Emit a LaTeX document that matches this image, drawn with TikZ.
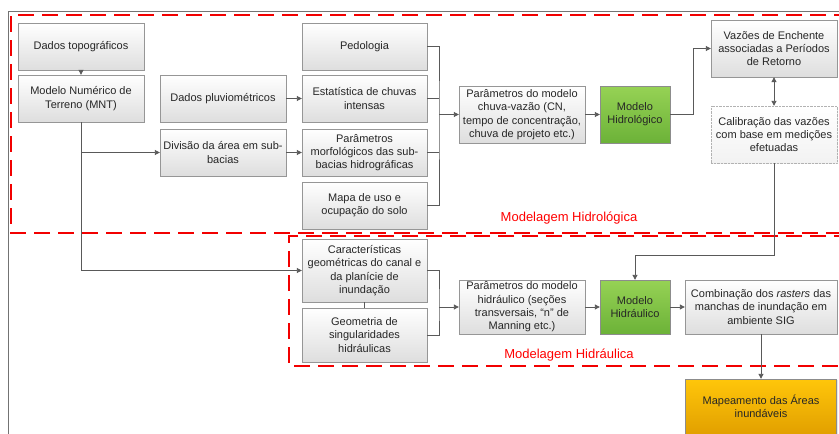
\documentclass[tikz,border=0pt]{standalone}
\usepackage{fontspec}
\setmainfont{Liberation Sans}
\usetikzlibrary{arrows.meta,shadows}
\definecolor{linha}{RGB}{89,89,89}
\definecolor{borda}{RGB}{150,150,150}
\definecolor{verdeA}{RGB}{150,210,85}
\definecolor{verdeB}{RGB}{108,178,56}
\definecolor{ouroA}{RGB}{255,198,10}
\definecolor{ouroB}{RGB}{226,160,0}
\tikzset{
  caixa/.style={draw=borda, top color=white, bottom color=black!13, align=center,
    inner sep=2pt, font=\fontsize{11}{13.3}\selectfont, text=black!85,
    drop shadow={shadow xshift=1pt, shadow yshift=-1pt, opacity=0.2}},
  tam/.style 2 args={minimum width=#1pt, minimum height=#2pt},
  verde/.style={caixa, top color=verdeA, bottom color=verdeB, draw=black!45},
  ouro/.style={caixa, top color=ouroA, bottom color=ouroB, draw=black!45},
  pontilhada/.style={caixa, draw=black!30, densely dotted, top color=white, bottom color=black!5, drop shadow={opacity=0}},
  seta/.style={draw=linha, line width=0.9pt, -{Triangle[length=5pt,width=5pt]}},
  liga/.style={draw=linha, line width=0.9pt},
  tracejado/.style={draw=red!95!black, line width=2.2pt, dash pattern=on 16pt off 8pt},
  rotulo/.style={text=red, font=\fontsize{13}{15}\selectfont},
}
\begin{document}
\begin{tikzpicture}[x=1pt, y=-1pt]
\useasboundingbox (0,0) rectangle (839,434);
\clip (0,0) rectangle (839,434);
% moldura
\draw[draw=black!55, line width=1pt] (8,434) -- (8,11) -- (839,11);
% areas de modelagem
\draw[tracejado] (850,15) -| (11,233) -- (850,233);
\draw[tracejado] (850,236) -| (289,366) -- (850,366);
\node[rotulo] (lbhidrol) at (569,218) {Modelagem Hidrológica};
\node[rotulo] (lbhidra) at (569,355) {Modelagem Hidráulica};
% caixas
\node[caixa, tam={126}{47}] (topo) at (81,46.5) {Dados topográficos};
\node[caixa, tam={126}{47}] (mnt) at (81,98.5) {Modelo Numérico de\\Terreno (MNT)};
\node[caixa, tam={126}{47}] (pluv) at (223,98.5) {Dados pluviométricos};
\node[caixa, tam={126}{47}] (divisao) at (223,152.5) {Divisão da área em sub-\\bacias};
\node[caixa, tam={125}{47}] (pedo) at (364.5,46.5) {Pedologia};
\node[caixa, tam={125}{47}] (estat) at (364.5,98.5) {Estatística de chuvas\\intensas};
\node[caixa, tam={125}{47}] (morfo) at (364.5,152.5) {Parâmetros\\morfológicos das sub-\\bacias hidrográficas};
\node[caixa, tam={125}{47}] (mapa) at (364.5,205.5) {Mapa de uso e\\ocupação do solo};
\node[caixa, tam={126}{57}] (chuva) at (522,114.5) {Parâmetros do modelo\\chuva-vazão (CN,\\tempo de concentração,\\chuva de projeto etc.)};
\node[verde, tam={70}{57}] (hidrol) at (635,114.5) {Modelo\\Hidrológico};
\node[caixa, tam={126}{57}] (vazoes) at (774,48.5) {Vazões de Enchente\\associadas a Períodos\\de Retorno};
\node[pontilhada, tam={126}{57}] (calib) at (774,134.5) {Calibração das vazões\\com base em medições\\efetuadas};
\node[caixa, tam={125}{63}] (caract) at (364.5,270.5) {Características\\geométricas do canal e\\da planície de\\inundação};
\node[caixa, tam={125}{54}] (geom) at (364.5,335) {Geometria de\\singularidades\\hidráulicas};
\node[caixa, tam={126}{54}] (phidr) at (522,307) {Parâmetros do modelo\\hidráulico (seções\\transversais, “n” de\\Manning etc.)};
\node[verde, tam={70}{54}] (hidra) at (635,307) {Modelo\\Hidráulico};
\node[caixa, tam={152}{54}] (comb) at (761,307) {Combinação dos \textit{rasters} das\\manchas de inundação em\\ambiente SIG};
\node[ouro, tam={151}{55}] (mapeam) at (761,406.5) {Mapeamento das Áreas\\inundáveis};
% ligacoes
\coordinate (j1) at (439,114.5);
\coordinate (j2) at (439,307);
\draw[seta] (topo) -- (mnt);
\draw[seta] (mnt.south) |- (caract.west);
\draw[seta] (mnt.south |- divisao.west) -- (divisao.west);
\draw[seta] (pluv) -- (estat);
\draw[seta] (divisao) -- (morfo);
\draw[liga] (pedo.east) -| (j1) |- (mapa.east);
\draw[liga] (estat.east) -- (estat.east -| j1);
\draw[liga] (morfo.east) -- (morfo.east -| j1);
\draw[seta] (j1) -- (chuva.west);
\draw[seta] (chuva) -- (hidrol);
\draw[seta] (hidrol.east) -- ++(23,0) |- (vazoes.west);
\draw[seta, {Triangle[length=5pt,width=5pt]}-{Triangle[length=5pt,width=5pt]}] (vazoes) -- (calib);
\draw[seta] (calib.south) -- ++(0,92) -| (hidra.north);
\draw[liga] (caract.east) -| (j2) |- (geom.east);
\draw[liga] (caract.south) -- (geom.north);
\draw[seta] (j2) -- (phidr.west);
\draw[seta] (phidr) -- (hidra);
\draw[seta] (hidra) -- (comb);
\draw[seta] (comb) -- (mapeam);
\end{tikzpicture}
\end{document}
